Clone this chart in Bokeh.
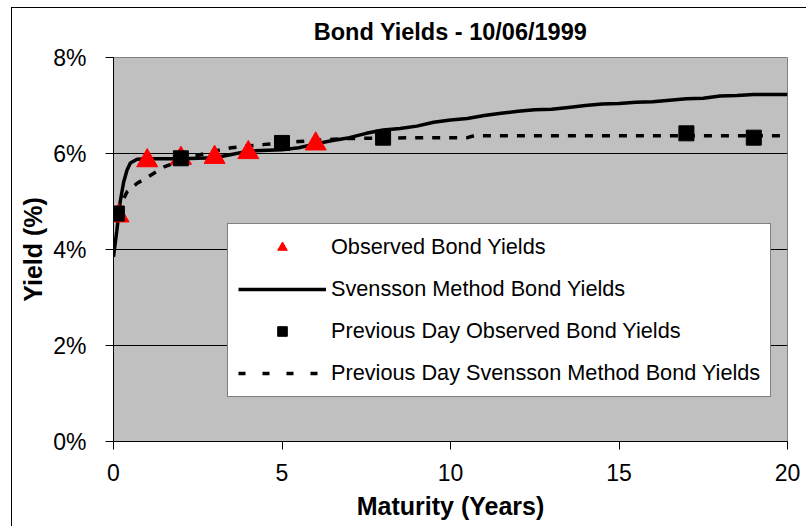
from bokeh.plotting import figure
from bokeh.models import (Legend, LegendItem, FixedTicker, PrintfTickFormatter,
                          Range1d, ColumnDataSource)
from bokeh.embed import file_html
from bokeh.resources import INLINE

# ---- data ----
svensson_x = [0, 0.1, 0.2, 0.3, 0.4, 0.5, 0.7, 1.0, 2.0, 3.0, 3.5, 4.0, 5.0, 5.5, 6.0,
              6.5, 7.0, 7.5, 8.0, 8.5, 9.0, 9.5, 10.0, 10.5, 11.0, 11.5, 12.0, 12.5,
              13.0, 13.5, 14.0, 14.5, 15.0, 15.5, 16.0, 16.5, 17.0, 17.5, 18.0, 18.5,
              19.0, 20.0]
svensson_y = [3.85, 4.4, 5.0, 5.4, 5.65, 5.8, 5.88, 5.89, 5.89, 5.91, 5.98, 6.05, 6.08,
              6.12, 6.2, 6.27, 6.33, 6.42, 6.49, 6.52, 6.57, 6.65, 6.7, 6.73, 6.79, 6.84,
              6.88, 6.91, 6.92, 6.96, 7.0, 7.03, 7.04, 7.07, 7.08, 7.11, 7.14, 7.15, 7.2,
              7.21, 7.23, 7.23]

prev_svensson_x = [0.1, 0.4, 0.7, 1.0, 1.5, 2.0, 2.6, 3.0, 3.5, 4.5, 5.5, 6.8, 8.0, 9.2,
                   10.5, 10.7, 12.0, 20.0]
prev_svensson_y = [4.75, 5.2, 5.38, 5.5, 5.72, 5.85, 5.98, 6.05, 6.12, 6.19, 6.25, 6.31,
                   6.32, 6.33, 6.33, 6.37, 6.37, 6.37]

observed_x = [0.15, 1, 2, 3, 4, 6]
observed_y = [4.7, 5.85, 5.9, 5.92, 6.02, 6.2]

prev_observed_x = [0.1, 2, 5, 8, 17, 19]
prev_observed_y = [4.75, 5.9, 6.22, 6.33, 6.42, 6.33]

x_ticks = [0, 5, 10, 15, 20]
y_ticks = [0, 2, 4, 6, 8]

TITLE = "Bond Yields - 10/06/1999"
FONT = "Liberation Sans"

p = figure(width=795, height=519, output_backend="svg", toolbar_location=None,
           x_range=Range1d(0, 20), y_range=Range1d(0, 8),
           min_border_left=101, min_border_right=20, min_border_top=49,
           min_border_bottom=86)
p.margin = (7, 0, 0, 11)
p.styles = {"border-top": "1px solid black", "border-left": "1px solid black"}

p.title.text = TITLE
p.title.align = "center"
p.title.vertical_align = "top"
p.title.text_font = FONT
p.title.text_font_size = "23.5px"
p.title.text_font_style = "bold"
p.title.text_color = "black"
p.title.standoff = 21
p.title.offset = 5

p.background_fill_color = "#C0C0C0"
p.border_fill_color = "white"
p.outline_line_color = "#808080"

p.xgrid.visible = False
p.ygrid.grid_line_color = "black"
p.ygrid.grid_line_width = 1
p.ygrid.ticker = FixedTicker(ticks=[2, 4, 6])

p.xaxis.ticker = FixedTicker(ticks=x_ticks)
p.yaxis.ticker = FixedTicker(ticks=y_ticks)
p.yaxis.formatter = PrintfTickFormatter(format="%d%%")

for ax in (p.xaxis[0], p.yaxis[0]):
    ax.axis_line_color = "black"
    ax.major_tick_line_color = "black"
    ax.major_tick_out = 8
    ax.major_tick_in = 0
    ax.minor_tick_line_color = None
    ax.major_label_text_font = FONT
    ax.major_label_text_font_size = "23px"
    ax.major_label_text_color = "black"
    ax.axis_label_text_font = FONT
    ax.axis_label_text_font_size = "25px"
    ax.axis_label_text_font_style = "bold"
    ax.axis_label_text_color = "black"

p.xaxis.axis_label = "Maturity (Years)"
p.yaxis.axis_label = "Yield (%)"
p.xaxis.major_label_standoff = 14
p.yaxis.major_label_standoff = 19
p.xaxis.axis_label_standoff = 8
p.yaxis.axis_label_standoff = 3

# data renderers
p.line(prev_svensson_x, prev_svensson_y, line_color="black", line_width=3.5,
       line_dash="8 9")
p.line(svensson_x, svensson_y, line_color="black", line_width=3.5)
p.scatter(observed_x, observed_y, marker="triangle", size=21, fill_color="red",
          line_color="red")
p.scatter(prev_observed_x, prev_observed_y, marker="square", size=15,
          fill_color="black", line_color="black")

# legend-only renderers (single point far outside the visible range)
off = dict(x=[-100], y=[-100])
lg_tri = p.scatter("x", "y", source=ColumnDataSource(off), marker="triangle",
                   size=18, fill_color="red", line_color="red")
lg_sol = p.line("x", "y", source=ColumnDataSource(off), line_color="black",
                line_width=3.5)
lg_sq = p.scatter("x", "y", source=ColumnDataSource(off), marker="square",
                  size=13, fill_color="black", line_color="black")
lg_dash = p.line("x", "y", source=ColumnDataSource(off), line_color="black",
                 line_width=3.5, line_dash="7 17")

legend = Legend(items=[
    LegendItem(label="Observed Bond Yields", renderers=[lg_tri]),
    LegendItem(label="Svensson Method Bond Yields", renderers=[lg_sol]),
    LegendItem(label="Previous Day Observed Bond Yields", renderers=[lg_sq]),
    LegendItem(label="Previous Day Svensson Method Bond Yields", renderers=[lg_dash]),
], location=(114, 44))
legend.label_text_font = FONT
legend.label_text_font_size = "21.7px"
legend.label_text_color = "black"
legend.glyph_width = 88
legend.glyph_height = 24
legend.label_standoff = 5
legend.spacing = 16
legend.padding = 10
legend.margin = 0
legend.border_line_color = "black"
legend.border_line_width = 1
legend.background_fill_color = "white"
legend.background_fill_alpha = 1
p.add_layout(legend, "center")

open("out.html", "w").write(file_html(p, INLINE))
